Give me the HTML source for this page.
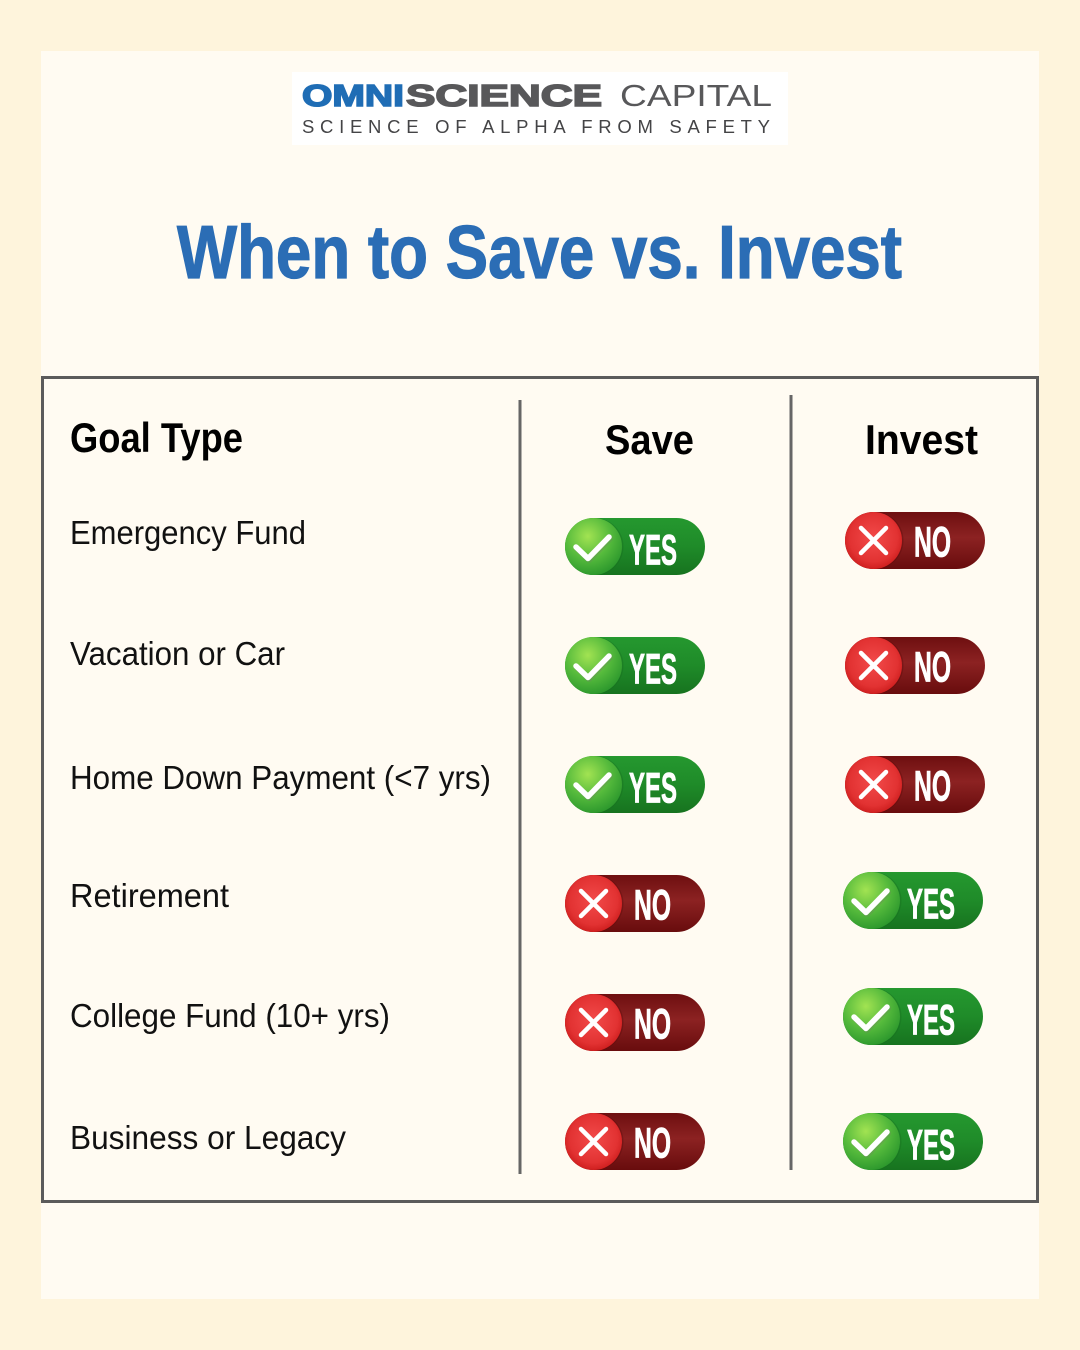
<!DOCTYPE html>
<html>
<head>
<meta charset="utf-8">
<style>
  html,body{margin:0;padding:0;background:#fef4dc;}
  svg{display:block;}
  text{font-family:"Liberation Sans", sans-serif;}
</style>
</head>
<body>
<svg width="1080" height="1350" viewBox="0 0 1080 1350" xmlns="http://www.w3.org/2000/svg">
  <defs>
    <linearGradient id="gBody" x1="0" y1="0" x2="0" y2="1">
      <stop offset="0" stop-color="#25982f"/>
      <stop offset="0.5" stop-color="#1f8b29"/>
      <stop offset="1" stop-color="#17731f"/>
    </linearGradient>
    <radialGradient id="gCirc" cx="0.4" cy="0.32" r="0.72">
      <stop offset="0" stop-color="#a2e352"/>
      <stop offset="0.55" stop-color="#55ba3c"/>
      <stop offset="1" stop-color="#2a962c"/>
    </radialGradient>
    <linearGradient id="rBody" x1="0" y1="0" x2="0" y2="1">
      <stop offset="0" stop-color="#6e0f10"/>
      <stop offset="0.45" stop-color="#8c2222"/>
      <stop offset="1" stop-color="#680c0d"/>
    </linearGradient>
    <radialGradient id="rCirc" cx="0.5" cy="0.45" r="0.6">
      <stop offset="0" stop-color="#f24a4a"/>
      <stop offset="0.7" stop-color="#e23232"/>
      <stop offset="1" stop-color="#c81818"/>
    </radialGradient>
    <g id="yes">
      <rect x="0" y="0" width="140" height="57" rx="28.5" fill="url(#gBody)"/>
      <circle cx="30" cy="28.5" r="28.5" fill="#166b1c" opacity="0.35"/>
      <circle cx="28.5" cy="28.5" r="28.5" fill="url(#gCirc)"/>
      <polyline points="11,29 23,40.5 44,19" fill="none" stroke="#6a8f5a" stroke-width="6" stroke-linecap="round" stroke-linejoin="round" opacity="0.4" transform="translate(1,1.5)"/>
      <polyline points="11,29 23,40.5 44,19" fill="none" stroke="#ffffff" stroke-width="5.5" stroke-linecap="round" stroke-linejoin="round"/>
      <text x="64" y="46.5" font-size="43" font-weight="bold" fill="#ffffff" stroke="#ffffff" stroke-width="0.8" textLength="48" lengthAdjust="spacingAndGlyphs">YES</text>
    </g>
    <g id="no">
      <rect x="0" y="0" width="140" height="57" rx="28.5" fill="url(#rBody)"/>
      <circle cx="30" cy="28.5" r="28.5" fill="#5a0808" opacity="0.35"/>
      <circle cx="28.5" cy="28.5" r="28.5" fill="url(#rCirc)"/>
      <g stroke="#ffffff" stroke-width="4.5" stroke-linecap="round">
        <line x1="16" y1="16" x2="41" y2="41"/>
        <line x1="41" y1="16" x2="16" y2="41"/>
      </g>
      <text x="69" y="44.5" font-size="43" font-weight="bold" fill="#ffffff" stroke="#ffffff" stroke-width="0.8" textLength="37" lengthAdjust="spacingAndGlyphs">NO</text>
    </g>
  </defs>

  <!-- background -->
  <rect x="0" y="0" width="1080" height="1350" fill="#fef4dc"/>
  <rect x="41" y="51" width="998" height="1248" fill="#fffbf2"/>

  <!-- logo -->
  <rect x="292" y="72" width="496" height="73" fill="#ffffff"/>
  <text x="302" y="106" font-size="31" font-weight="bold" fill="#1f6db5" stroke="#1f6db5" stroke-width="1.6" textLength="102" lengthAdjust="spacingAndGlyphs">OMNI</text>
  <text x="406" y="106" font-size="31" font-weight="bold" fill="#58585a" stroke="#58585a" stroke-width="1.6" textLength="196" lengthAdjust="spacingAndGlyphs">SCIENCE</text>
  <text x="620" y="106" font-size="31" fill="#58585a" textLength="152" lengthAdjust="spacingAndGlyphs">CAPITAL</text>
  <text x="302" y="133" font-size="18.5" fill="#444446" textLength="468" lengthAdjust="spacing">SCIENCE OF ALPHA FROM SAFETY</text>

  <!-- title -->
  <text x="177" y="278" font-size="75" font-weight="bold" fill="#2b6db5" stroke="#2b6db5" stroke-width="1.2" textLength="725" lengthAdjust="spacingAndGlyphs">When to Save vs. Invest</text>

  <!-- table frame -->
  <rect x="42.5" y="377.5" width="995" height="824" fill="none" stroke="#5b5b5b" stroke-width="3"/>
  <line x1="520" y1="400" x2="520" y2="1174" stroke="#666666" stroke-width="3"/>
  <line x1="791" y1="395" x2="791" y2="1170" stroke="#666666" stroke-width="3"/>

  <!-- headers -->
  <text x="70" y="452" font-size="42" font-weight="bold" fill="#000000" textLength="173" lengthAdjust="spacingAndGlyphs">Goal Type</text>
  <text x="605" y="454" font-size="42" font-weight="bold" fill="#000000" textLength="89" lengthAdjust="spacingAndGlyphs">Save</text>
  <text x="865" y="454" font-size="42" font-weight="bold" fill="#000000" textLength="113" lengthAdjust="spacingAndGlyphs">Invest</text>

  <!-- row labels -->
  <g font-size="33" fill="#111111">
    <text x="70" y="544" textLength="236" lengthAdjust="spacingAndGlyphs">Emergency Fund</text>
    <text x="70" y="665" textLength="215" lengthAdjust="spacingAndGlyphs">Vacation or Car</text>
    <text x="70" y="789" textLength="421" lengthAdjust="spacingAndGlyphs">Home Down Payment (&lt;7 yrs)</text>
    <text x="70" y="907" textLength="159" lengthAdjust="spacingAndGlyphs">Retirement</text>
    <text x="70" y="1027" textLength="320" lengthAdjust="spacingAndGlyphs">College Fund (10+ yrs)</text>
    <text x="70" y="1149" textLength="276" lengthAdjust="spacingAndGlyphs">Business or Legacy</text>
  </g>

  <!-- pills: Save column -->
  <use href="#yes" x="565" y="518"/>
  <use href="#yes" x="565" y="637"/>
  <use href="#yes" x="565" y="756"/>
  <use href="#no" x="565" y="875"/>
  <use href="#no" x="565" y="994"/>
  <use href="#no" x="565" y="1113"/>

  <!-- pills: Invest column -->
  <use href="#no" x="845" y="512"/>
  <use href="#no" x="845" y="637"/>
  <use href="#no" x="845" y="756"/>
  <use href="#yes" x="843" y="872"/>
  <use href="#yes" x="843" y="988"/>
  <use href="#yes" x="843" y="1113"/>
</svg>
</body>
</html>
